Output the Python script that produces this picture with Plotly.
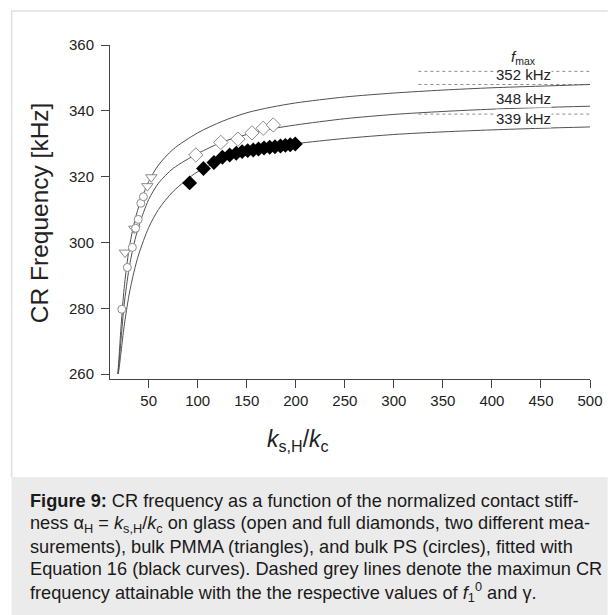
import plotly.graph_objects as go

# ---- measured data ----
# bulk PMMA (triangles)
pmma_k = [25.9, 35.4, 48.7, 52.7]
pmma_f = [296.9, 304.2, 317.1, 319.8]

# bulk PS (circles)
ps_k = [22.6, 28.3, 33.4, 36.7, 39.4, 42.0, 44.7]
ps_f = [279.7, 292.4, 298.5, 304.3, 307.0, 311.9, 313.9]

# glass, measurement 1 (open diamonds)
glass_open_k = [98.1, 123.6, 141.0, 155.3, 166.8, 177.1]
glass_open_f = [326.6, 330.4, 331.4, 333.3, 334.7, 335.7]

# glass, measurement 2 (full diamonds)
glass_full_k = [91.8, 105.9, 116.6, 125.2, 132.6, 139.3, 145.3, 151.0, 156.7,
                162.0, 167.7, 173.4, 178.8, 184.4, 189.4, 194.4, 199.5]
glass_full_f = [318.1, 322.5, 324.3, 325.9, 326.6, 327.1, 327.6, 327.9, 328.1,
                328.4, 328.7, 328.9, 329.1, 329.3, 329.5, 329.7, 329.9]

# ---- fitted curves (Equation 16) ----
fit_top_k = [18.6, 20, 22, 25, 30, 35, 40, 50, 60, 75, 100, 125, 150, 175, 200,
             250, 300, 350, 400, 450, 500]
fit_top_f = [260, 266, 275, 286, 298, 305.5, 311, 318.5, 323.5, 328.3, 333.3,
             336.8, 339.4, 341.1, 342.4, 344.2, 345.4, 346.3, 347.0, 347.5, 348.0]

fit_mid_k = [18.8, 20, 22, 25, 30, 35, 40, 50, 60, 75, 100, 125, 150, 175, 200,
             250, 300, 350, 400, 450, 500]
fit_mid_f = [260, 264, 271, 281, 292, 299.5, 305, 313, 318, 322.5, 327.0,
             330.5, 332.8, 334.5, 335.7, 337.6, 338.9, 339.8, 340.5, 341.0, 341.4]

fit_low_k = [19.0, 20, 22, 25, 30, 35, 40, 50, 60, 75, 100, 125, 150, 175, 200,
             250, 300, 350, 400, 450, 500]
fit_low_f = [260, 262, 267, 274.5, 284, 291, 296.5, 304.5, 310, 315.5, 321.5,
             325.0, 327.3, 328.8, 330.0, 331.6, 332.8, 333.6, 334.2, 334.7, 335.1]

# maximum attainable CR frequency (kHz)
fmax_values = [352, 348, 339]
fmax_labels = ["352 kHz", "348 kHz", "339 kHz"]
fmax_label_pos = [351.1, 343.8, 337.7]
fmax_k_span = [325, 500]

x_ticks = [50, 100, 150, 200, 250, 300, 350, 400, 450, 500]
y_ticks = [260, 280, 300, 320, 340, 360]

caption_lines = [
    "<b>Figure 9:</b> CR frequency as a function of the normalized contact stiff-",
    "ness α<sub>H</sub> = <i>k</i><sub>s,H</sub>/<i>k</i><sub>c</sub> on glass (open and full diamonds, two different mea-",
    "surements), bulk PMMA (triangles), and bulk PS (circles), fitted with",
    "Equation 16 (black curves). Dashed grey lines denote the maximun CR",
    "frequency attainable with the the respective values of <i>f</i><sub>1</sub><sup>0</sup> and γ.",
]

FONT = "Liberation Sans, Arial, Helvetica, sans-serif"
W, H = 615, 615
L, R, T, B = 110, 17, 45, 236
PW, PH = W - L - R, H - T - B


def px(xp):
    return (xp - L) / PW


def py(yp):
    return (H - B - yp) / PH


fig = go.Figure()

# dashed f_max lines
for fv in fmax_values:
    fig.add_trace(go.Scatter(x=fmax_k_span, y=[fv, fv], mode="lines",
                             line=dict(color="#8c8c8c", width=1, dash="dot"),
                             hoverinfo="skip"))

# fit curves
for kk, ff in [(fit_top_k, fit_top_f), (fit_mid_k, fit_mid_f), (fit_low_k, fit_low_f)]:
    fig.add_trace(go.Scatter(x=kk, y=ff, mode="lines",
                             line=dict(color="#505050", width=1, shape="spline", smoothing=0.8)))

# data markers
open_line = dict(color="#8a8a8a", width=1)
fig.add_trace(go.Scatter(x=pmma_k, y=pmma_f, mode="markers",
                         marker=dict(symbol="triangle-down", size=10, color="white", line=open_line)))
fig.add_trace(go.Scatter(x=ps_k, y=ps_f, mode="markers",
                         marker=dict(symbol="circle", size=8, color="white", line=open_line)))
fig.add_trace(go.Scatter(x=glass_open_k, y=glass_open_f, mode="markers",
                         marker=dict(symbol="diamond", size=11, color="white", line=open_line)))
fig.add_trace(go.Scatter(x=glass_full_k, y=glass_full_f, mode="markers",
                         marker=dict(symbol="diamond", size=11.5, color="black",
                                     line=dict(color="black", width=0))))

annotations = []
for lab, yv in zip(fmax_labels, fmax_label_pos):
    annotations.append(dict(x=432.5, y=yv, xref="x", yref="y", text=lab, showarrow=False,
                            font=dict(family=FONT, size=15, color="#222"),
                            bgcolor="white", borderpad=0, xanchor="center", yanchor="middle"))
annotations.append(dict(x=432.5, y=356.2, xref="x", yref="y", text="<i>f</i><sub>max</sub>",
                        showarrow=False, font=dict(family=FONT, size=15, color="#222"),
                        xanchor="center", yanchor="middle"))

# axis titles
annotations.append(dict(x=px(38), y=py(213), xref="paper", yref="paper",
                        text="CR Frequency [kHz]", textangle=-90, showarrow=False,
                        font=dict(family=FONT, size=24.5, color="#222"),
                        xanchor="center", yanchor="middle"))
annotations.append(dict(x=px(301), y=py(440), xref="paper", yref="paper",
                        text="<i>k</i><sub>s,H</sub>/<i>k</i><sub>c</sub>", showarrow=False,
                        font=dict(family=FONT, size=23, color="#222"),
                        xanchor="center", yanchor="middle"))

# caption
cap_y = [501, 524, 547, 569, 592]
for line, yy in zip(caption_lines, cap_y):
    annotations.append(dict(x=px(27), y=py(yy), xref="paper", yref="paper", text=line,
                            showarrow=False, align="left",
                            font=dict(family=FONT, size=18.2, color="#1a1a1a"),
                            xanchor="left", yanchor="middle"))

shapes = [
    # caption panel
    dict(type="rect", xref="paper", yref="paper", x0=px(10), x1=px(616), y0=py(477), y1=py(616),
         fillcolor="#ebebeb", line=dict(width=0), layer="below"),
    # light frame around the chart
    dict(type="path", xref="paper", yref="paper",
         path=f"M {px(10)},{py(477)} L {px(10)},{py(11)} L {px(616)},{py(11)}",
         line=dict(color="#e0e0e0", width=1.5)),
]

axis_common = dict(showline=True, linecolor="#444", linewidth=1, ticks="outside",
                   ticklen=8, tickcolor="#444", tickwidth=1, showgrid=False, zeroline=False,
                   tickfont=dict(family=FONT, size=15, color="#222"))

fig.update_layout(
    width=W, height=H,
    margin=dict(l=L, r=R, t=T, b=B),
    plot_bgcolor="white", paper_bgcolor="white",
    showlegend=False,
    xaxis=dict(range=[10.6, 500], tickvals=x_ticks, **axis_common),
    yaxis=dict(range=[258.5, 360], tickvals=y_ticks, ticklabelstandoff=4, **axis_common),
    annotations=annotations,
    shapes=shapes,
)

fig.write_html("out.html")
